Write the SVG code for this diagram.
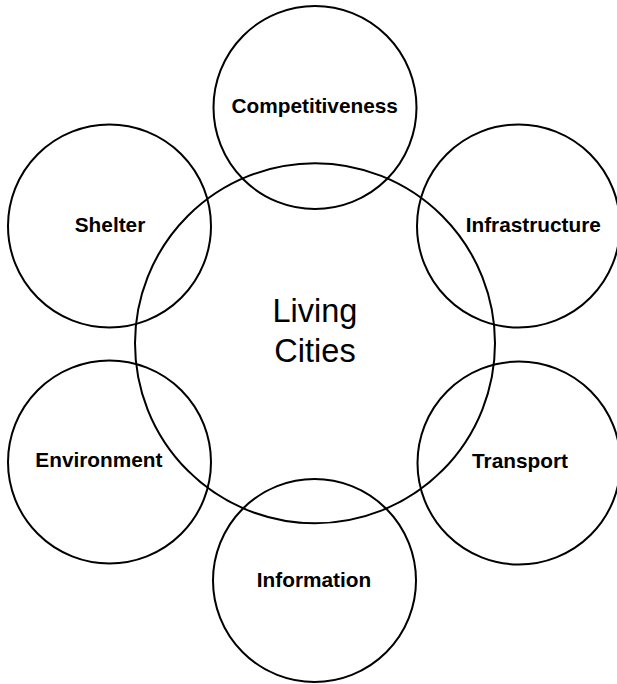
<svg xmlns="http://www.w3.org/2000/svg" width="617" height="684" viewBox="0 0 617 684">
<style>
.c{fill:none;stroke:#000;stroke-width:2}
.l{font-family:"Liberation Sans",Arial,sans-serif;font-weight:bold;font-size:20.8px;fill:#000;text-anchor:middle}
.m{font-family:"Liberation Sans",Arial,sans-serif;font-size:32.5px;fill:#000;text-anchor:middle}
</style>
<rect width="617" height="684" fill="#fff"/>
<g id="living-cities"><circle class="c" cx="315" cy="343.3" r="180"/><text class="m" x="315" y="321.7">Living</text><text class="m" x="315" y="361.7">Cities</text></g>
<g id="competitiveness"><circle class="c" cx="315" cy="107.5" r="101.5"/><text class="l" x="314.7" y="112.7">Competitiveness</text></g>
<g id="shelter"><circle class="c" cx="109.5" cy="226" r="101.5"/><text class="l" x="110" y="232.3">Shelter</text></g>
<g id="infrastructure"><circle class="c" cx="518.5" cy="226" r="101.5"/><text class="l" x="533.3" y="232.3">Infrastructure</text></g>
<g id="environment"><circle class="c" cx="109.5" cy="462" r="101.5"/><text class="l" x="98.9" y="467.3">Environment</text></g>
<g id="transport"><circle class="c" cx="519" cy="463" r="101.5"/><text class="l" x="520" y="468.3">Transport</text></g>
<g id="information"><circle class="c" cx="314.5" cy="580.5" r="101.5"/><text class="l" x="314" y="586.7">Information</text></g>
<g id="connectors"></g>
</svg>
